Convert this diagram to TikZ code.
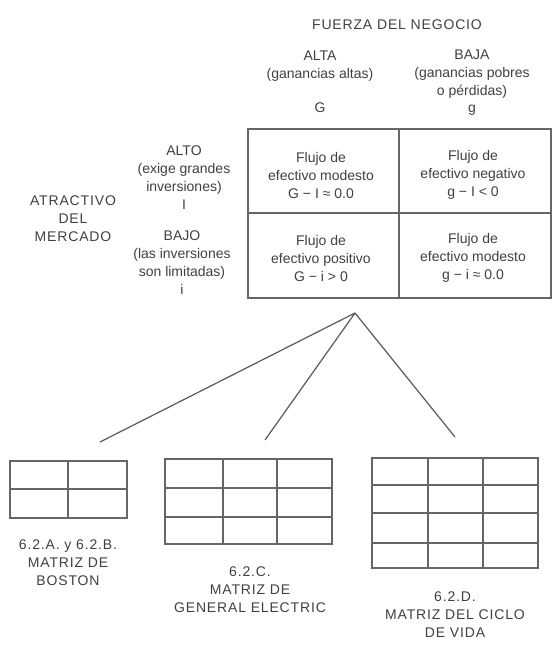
\documentclass[tikz,border=0pt]{standalone}
\usepackage{fontspec}
\setmainfont{Liberation Sans}
\tikzstyle{txt}=[inner sep=0pt, text=black!75, align=center, font=\fontsize{14}{18}\selectfont]
\tikzstyle{caps}=[txt, font=\fontsize{14}{18}\selectfont\addfontfeature{LetterSpace=6}]
\tikzstyle{grid}=[draw=black!60, line width=1.3pt]
\tikzstyle{frame}=[draw=black!60, line width=1.8pt]
\tikzstyle{link}=[draw=black!65, line width=1.2pt]

\begin{document}
\begin{tikzpicture}[x=1pt, y=-1pt]
		   \useasboundingbox (0,0) rectangle (555,646);
		   \begin{scope}
			   \node (fuerza) at (397, 25)[caps] {FUERZA DEL NEGOCIO};
			   \node (alta) at (320, 66)[txt] {ALTA\\(ganancias altas)};
			   \node (baja) at (472, 74)[txt] {BAJA\\(ganancias pobres\\o pérdidas)};
			   \node (G) at (320, 108)[txt] {G};
			   \node (g) at (472, 110)[txt] {g};
			   \node (atractivo) at (73, 219)[caps] {ATRACTIVO\\DEL\\MERCADO};
			   \node (alto) at (184, 178)[txt] {ALTO\\(exige grandes\\inversiones)\\I};
			   \node (bajo) at (182, 263)[txt] {BAJO\\(las inversiones\\son limitadas)\\i};
		   \end{scope}
		   \begin{scope}
			   \draw[frame] (248, 129) rectangle (551, 298);
			   \draw[grid] (399, 129) -- (399, 298);
			   \draw[grid] (248, 213) -- (551, 213);
			   \node (modestoA) at (321, 175)[txt] {Flujo de\\efectivo modesto\\G − I ≈ 0.0};
			   \node (negativo) at (473, 175)[txt] {Flujo de\\efectivo negativo\\g − I < 0};
			   \node (positivo) at (321, 258)[txt] {Flujo de\\efectivo positivo\\G − i > 0};
			   \node (modestoB) at (473, 258)[txt] {Flujo de\\efectivo modesto\\g − i ≈ 0.0};
		   \end{scope}
		   \begin{scope}
			   \coordinate (apex) at (355, 313);
			   \coordinate (boston) at (100, 442);
			   \coordinate (ge) at (265, 440);
			   \coordinate (ciclo) at (455, 437);
			   \path [link] (apex) edge (boston);
			   \path [link] (apex) edge (ge);
			   \path [link] (apex) edge (ciclo);
		   \end{scope}
		   \begin{scope}
			   \draw[grid] (10, 461) rectangle (127, 518);
			   \draw[grid] (68, 461) -- (68, 518);
			   \draw[grid] (10, 489) -- (127, 489);
			   \node (bostonT) at (68, 563)[caps] {6.2.A. y 6.2.B.\\MATRIZ DE\\BOSTON};
			   \draw[grid] (165, 459) rectangle (332, 544);
			   \foreach \x in {223, 277} \draw[grid] (\x, 459) -- (\x, 544);
			   \foreach \y in {488, 517} \draw[grid] (165, \y) -- (332, \y);
			   \node (geT) at (250, 590)[caps] {6.2.C.\\MATRIZ DE\\GENERAL ELECTRIC};
			   \draw[grid] (372, 458) rectangle (538, 568);
			   \foreach \x in {428, 483} \draw[grid] (\x, 458) -- (\x, 568);
			   \foreach \y in {485, 513, 543} \draw[grid] (372, \y) -- (538, \y);
			   \node (cicloT) at (455, 615)[caps] {6.2.D.\\MATRIZ DEL CICLO\\DE VIDA};
		   \end{scope}
	   \end{tikzpicture}
\end{document}
